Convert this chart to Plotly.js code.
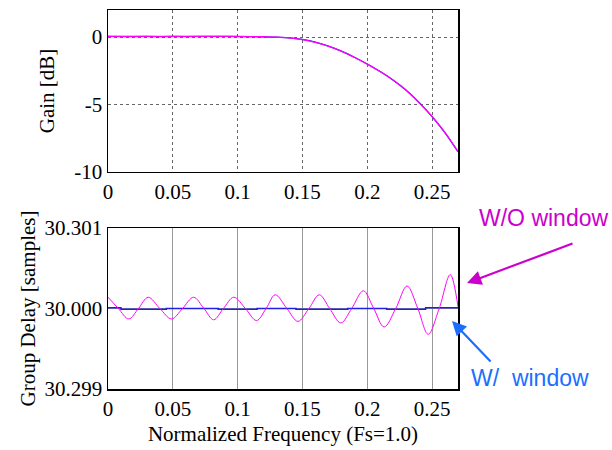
<!DOCTYPE html>
<html>
<head>
<meta charset="utf-8">
<script src="https://cdn.plot.ly/plotly-3.0.1.min.js"></script>
<style>html,body{margin:0;padding:0;background:#fff;}#chart{width:612px;height:450px;}</style>
</head>
<body>
<div id="chart"></div>
<script>
// Gain response [dB]
const gainFreq = [0, 0.02, 0.04, 0.06, 0.08, 0.10, 0.12, 0.13, 0.14, 0.15, 0.16, 0.17, 0.18, 0.19, 0.20, 0.21, 0.22, 0.23, 0.24, 0.25, 0.26, 0.27];
const gainWith = [0.05, 0.05, 0.03, 0.05, 0.05, 0.05, 0.01, -0.02, -0.06, -0.18, -0.38, -0.68, -1.05, -1.50, -2.00, -2.56, -3.20, -3.95, -4.85, -5.90, -7.10, -8.50];
const gainWithout = [0.05, 0.03, 0.05, 0.03, 0.05, 0.03, 0.02, -0.02, -0.06, -0.19, -0.39, -0.67, -1.04, -1.50, -2.01, -2.57, -3.19, -3.94, -4.86, -5.89, -7.08, -8.50];

// Group delay [samples]
const delayFreqWithout = [0, 0.008, 0.016, 0.0235, 0.031, 0.040, 0.049, 0.0575, 0.066, 0.074, 0.0815, 0.089, 0.097, 0.106, 0.1146, 0.122, 0.129, 0.138, 0.1465, 0.155, 0.163, 0.171, 0.1796, 0.188, 0.197, 0.205, 0.213, 0.222, 0.2307, 0.239, 0.247, 0.2555, 0.264, 0.27];
const delayWithout = [30.00014, 30.0, 29.99987, 30.0, 30.00014, 30.0, 29.99987, 30.0, 30.00014, 30.0, 29.99986, 30.0, 30.00014, 30.0, 29.99985, 30.0, 30.00017, 30.0, 29.99984, 30.0, 30.00017, 30.0, 29.99982, 30.0, 30.00022, 30.0, 29.99977, 30.0, 30.00028, 30.0, 29.99968, 30.0, 30.00042, 30.00002];
const delayFreqWith = [0, 0.010, 0.045, 0.085, 0.115, 0.145, 0.185, 0.215, 0.245, 0.27];
const delayWith = [30.00001, 29.99999, 30.0, 29.99999, 30.0, 29.99999, 30.0, 29.99999, 30.00001, 30.00001];

const freqTicks = [0, 0.05, 0.1, 0.15, 0.2, 0.25];
const freqTickText = ['0', '0.05', '0.1', '0.15', '0.2', '0.25'];
const gainTicks = [0, -5, -10];
const gainTickText = ['0', '-5', '-10'];
const delayTicks = [30.001, 30.0, 29.999];
const delayTickText = ['30.301', '30.000', '30.299'];

const serif = {family: 'Liberation Serif, Times New Roman, serif', size: 21, color: '#000'};
const sans = 'Liberation Sans, Arial, sans-serif';
const MAG = '#ff00ff', BLU = '#2020e0';
const MAGT = '#cc00cc', BLUT = '#1a6fff';

const traces = [
  {x: gainFreq, y: gainWith, xaxis: 'x', yaxis: 'y', mode: 'lines', line: {color: BLU, width: 1.3, shape: 'spline'}, hoverinfo: 'skip'},
  {x: gainFreq, y: gainWithout, xaxis: 'x', yaxis: 'y', mode: 'lines', line: {color: MAG, width: 1.3, shape: 'spline'}, hoverinfo: 'skip'},
  {x: delayFreqWith, y: delayWith, xaxis: 'x2', yaxis: 'y2', mode: 'lines', line: {color: BLU, width: 1.5, shape: 'hv'}, hoverinfo: 'skip'},
  {x: delayFreqWithout, y: delayWithout, xaxis: 'x2', yaxis: 'y2', mode: 'lines', line: {color: MAG, width: 1.0, shape: 'spline', smoothing: 1}, hoverinfo: 'skip'}
];

const xBase = {range: [0, 0.27], tickmode: 'array', tickvals: freqTicks, ticktext: freqTickText, tickfont: serif,
  showline: true, mirror: true, linecolor: '#000', linewidth: 1.5, zeroline: false, ticks: ''};

const layout = {
  width: 612, height: 450, showlegend: false,
  paper_bgcolor: '#fff', plot_bgcolor: '#fff',
  margin: {l: 108, r: 154, t: 10, b: 61},
  xaxis: Object.assign({}, xBase, {domain: [0, 1], anchor: 'y', showgrid: true, gridcolor: '#666', griddash: 'dot', gridwidth: 1}),
  yaxis: {domain: [0.5726, 1], anchor: 'x', range: [-10, 2], tickmode: 'array', tickvals: gainTicks, ticktext: gainTickText, tickfont: serif,
    showline: true, mirror: true, linecolor: '#000', linewidth: 1.5, zeroline: false, ticks: '',
    showgrid: true, gridcolor: '#666', griddash: 'dot', gridwidth: 1,
    title: {text: 'Gain [dB]', font: serif, standoff: 14}},
  xaxis2: Object.assign({}, xBase, {domain: [0, 1], anchor: 'y2', showgrid: true, gridcolor: '#999', gridwidth: 1,
    title: {text: 'Normalized Frequency (Fs=1.0)', font: serif, standoff: 6}}),
  yaxis2: {domain: [0, 0.4248], anchor: 'x2', range: [29.999, 30.001], tickmode: 'array', tickvals: delayTicks, ticktext: delayTickText, tickfont: serif,
    showline: true, mirror: true, linecolor: '#000', linewidth: 1.5, zeroline: false, ticks: '',
    showgrid: true, gridcolor: '#999', gridwidth: 1,
    title: {text: 'Group Delay [samples]', font: serif, standoff: 3}},
  annotations: [
    {xref: 'paper', yref: 'paper', x: 543, y: 218, text: 'W/O window', showarrow: false, xanchor: 'center', yanchor: 'middle',
      font: {family: sans, size: 23, color: MAGT}},
    {xref: 'paper', yref: 'paper', x: 530, y: 378, text: 'W/&nbsp;&nbsp;window', showarrow: false, xanchor: 'center', yanchor: 'middle',
      font: {family: sans, size: 23, color: BLUT}}
  ]
};

// convert pixel positions for annotations to paper coordinates
const pw = 612 - 108 - 154, ph = 450 - 10 - 61;
function px2paper(px, py) { return [(px - 108) / pw, (450 - 61 - py) / ph]; }
layout.annotations.forEach(a => { const p = px2paper(a.x, a.y); a.x = p[0]; a.y = p[1]; });

// arrows
function arrow(tail, head, color) {
  const h = px2paper(head[0], head[1]);
  return {xref: 'paper', yref: 'paper', x: h[0], y: h[1], ax: tail[0] - head[0], ay: tail[1] - head[1],
    text: '', showarrow: true, arrowhead: 2, arrowsize: 1.3, arrowwidth: 2.2, arrowcolor: color};
}
layout.annotations.push(arrow([574, 243], [467, 283], MAGT));
layout.annotations.push(arrow([492, 363], [452, 321], BLUT));

Plotly.newPlot('chart', traces, layout, {staticPlot: true, displayModeBar: false});
</script>
</body>
</html>
